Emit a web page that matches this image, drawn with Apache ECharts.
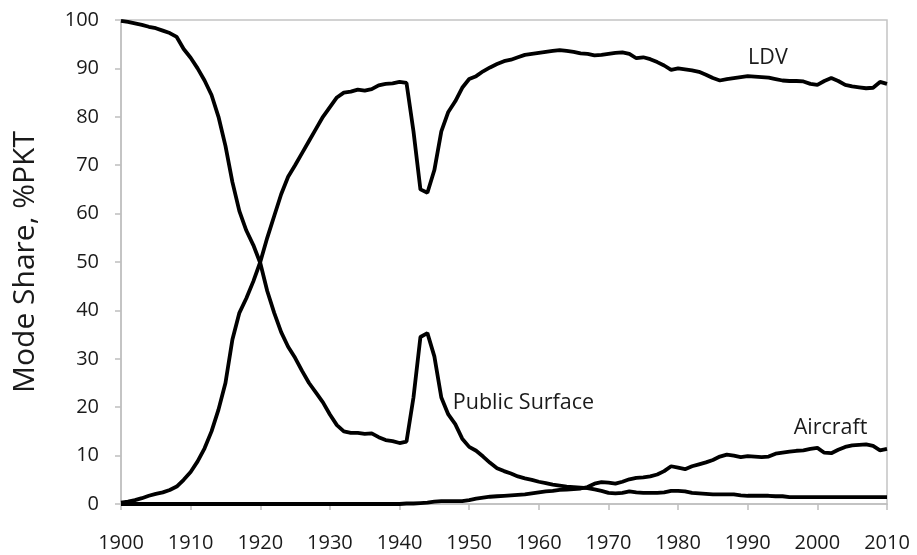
<!DOCTYPE html>
<html>
<head>
<meta charset="utf-8">
<script src="https://cdn.jsdelivr.net/npm/echarts@6/dist/echarts.min.js"></script>
<style>html,body{margin:0;padding:0;background:#fff}#c{width:917px;height:555px}</style>
</head>
<body>
<div id="c"></div>
<script>
var years = [];
for (var y = 1900; y <= 2010; y++) years.push(y);

var ldv = [0.3,0.5,0.8,1.2,1.7,2.1,2.4,2.9,3.6,5.0,
  6.6,8.8,11.5,15.0,19.5,25,34,39.5,42.5,46,
  50,55,59.5,64,67.6,70,72.5,75,77.5,80,
  82,84,85,85.2,85.6,85.4,85.7,86.5,86.8,86.9,
  87.2,87,77,65,64.3,69,77,81,83.2,86,
  87.8,88.4,89.4,90.2,90.9,91.5,91.8,92.3,92.8,93,
  93.2,93.4,93.6,93.8,93.6,93.4,93.1,93,92.7,92.8,
  93.0,93.2,93.3,93,92.1,92.3,91.9,91.3,90.6,89.7,
  90,89.8,89.6,89.3,88.7,88,87.5,87.8,88,88.2,
  88.4,88.3,88.2,88.1,87.8,87.5,87.4,87.4,87.3,86.8,
  86.6,87.4,88,87.4,86.6,86.3,86.1,85.9,86,87.2,
  86.8];

var publicSurface = [99.8,99.6,99.3,99,98.6,98.3,97.8,97.3,96.5,94,
  92.2,90,87.5,84.5,80,74,66.5,60.5,56.5,53.5,
  49.8,44,39.5,35.5,32.5,30.2,27.5,25,23,21,
  18.5,16.3,15,14.7,14.7,14.5,14.6,13.8,13.2,13,
  12.6,12.9,22,34.5,35.3,30.5,22,18.5,16.5,13.5,
  11.8,11,9.8,8.5,7.4,6.8,6.3,5.7,5.3,5.0,
  4.6,4.3,4.0,3.8,3.6,3.5,3.4,3.3,3.0,2.7,
  2.3,2.2,2.3,2.6,2.4,2.3,2.3,2.3,2.4,2.7,
  2.7,2.6,2.3,2.2,2.1,2.0,2.0,2.0,2.0,1.8,
  1.7,1.7,1.7,1.7,1.6,1.6,1.4,1.4,1.4,1.4,
  1.4,1.4,1.4,1.4,1.4,1.4,1.4,1.4,1.4,1.4,
  1.4];

var aircraft = [0,0,0,0,0,0,0,0,0,0,
  0,0,0,0,0,0,0,0,0,0,
  0,0,0,0,0,0,0,0,0,0,
  0,0,0,0,0,0,0,0,0,0,
  0,0.1,0.1,0.2,0.3,0.5,0.6,0.6,0.6,0.6,
  0.8,1.1,1.3,1.5,1.6,1.7,1.8,1.9,2.0,2.2,
  2.4,2.6,2.7,2.9,3.0,3.1,3.2,3.5,4.2,4.5,
  4.4,4.2,4.6,5.1,5.4,5.5,5.7,6.1,6.8,7.8,
  7.5,7.2,7.8,8.2,8.6,9.1,9.8,10.2,10.0,9.7,
  9.9,9.8,9.7,9.8,10.4,10.6,10.8,11.0,11.1,11.4,
  11.6,10.6,10.5,11.2,11.8,12.1,12.2,12.3,12.0,11.1,
  11.4];

var seriesNames = ['LDV', 'Public Surface', 'Aircraft'];
var labelSpots = [[1992.9, 92.1], [1957.8, 20.9], [2001.9, 15.7]];

function pairs(vals) { return years.map(function (yr, i) { return [yr, vals[i]]; }); }

var txt = '#1a1a1a';
var font = '"Open Sans", Lato, sans-serif';

function mkSeries(name, vals, spot) {
  return {
    name: name, type: 'line', data: pairs(vals), showSymbol: false, symbol: 'none',
    lineStyle: { color: '#000', width: 3.8 }, itemStyle: { color: '#000' },
    z: 3, animation: false,
    markPoint: {
      symbol: 'circle', symbolSize: 1, itemStyle: { color: 'rgba(0,0,0,0)' },
      label: { show: true, position: 'inside', formatter: name, color: txt, fontSize: 21.5, fontFamily: font },
      data: [{ coord: spot }]
    }
  };
}

var chart = echarts.init(document.getElementById('c'), null, { renderer: 'canvas' });
chart.setOption({
  animation: false,
  backgroundColor: '#fff',
  grid: { left: 121, right: 30, top: 20, bottom: 51, show: true, borderColor: '#c4c4c4', borderWidth: 1.5, backgroundColor: 'transparent' },
  xAxis: {
    type: 'value', min: 1900, max: 2010, interval: 10,
    axisLine: { show: true, lineStyle: { color: '#bfbfbf', width: 1.5 } },
    axisTick: { show: true, inside: false, length: 6, lineStyle: { color: '#bfbfbf', width: 1.5 } },
    axisLabel: { color: txt, fontSize: 20, fontFamily: font, margin: 29, formatter: function (v) { return String(v); } },
    splitLine: { show: false }
  },
  yAxis: {
    type: 'value', min: 0, max: 100, interval: 10,
    name: 'Mode Share, %PKT', nameLocation: 'middle', nameGap: 81,
    nameTextStyle: { color: txt, fontSize: 30, fontFamily: font },
    axisLine: { show: true, lineStyle: { color: '#bfbfbf', width: 1.5 } },
    axisTick: { show: true, inside: false, length: 6, lineStyle: { color: '#bfbfbf', width: 1.5 } },
    axisLabel: { color: txt, fontSize: 20, fontFamily: font, margin: 22 },
    splitLine: { show: false }
  },
  series: [
    mkSeries(seriesNames[0], ldv, labelSpots[0]),
    mkSeries(seriesNames[1], publicSurface, labelSpots[1]),
    mkSeries(seriesNames[2], aircraft, labelSpots[2])
  ]
});
</script>
</body>
</html>
